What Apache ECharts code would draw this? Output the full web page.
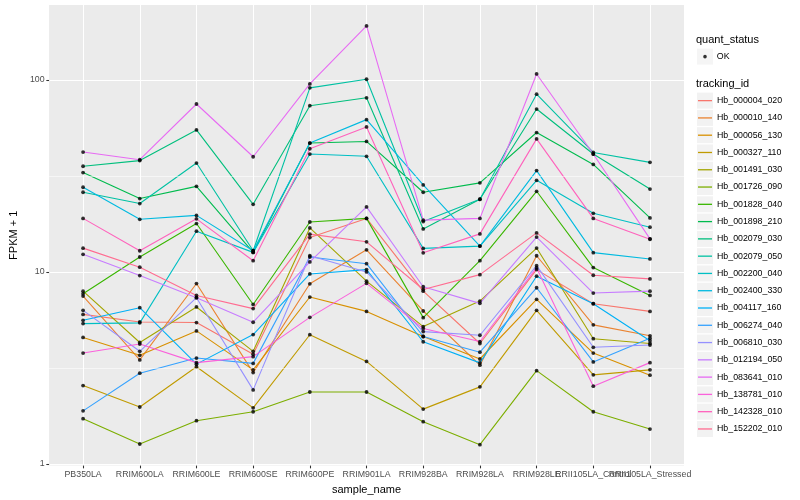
<!DOCTYPE html>
<html><head><meta charset="utf-8">
<script src="https://cdn.jsdelivr.net/npm/echarts@6/dist/echarts.min.js"></script>
<style>html,body{margin:0;padding:0;background:#fff}#c{width:800px;height:500px}</style>
</head><body><div id="c"></div>
<script>
const categories = ["PB350LA","RRIM600LA","RRIM600LE","RRIM600SE","RRIM600PE","RRIM901LA","RRIM928BA","RRIM928LA","RRIM928LE","RRII105LA_Control","RRII105LA_Stressed"];
const trackingIds = ["Hb_000004_020","Hb_000010_140","Hb_000056_130","Hb_000327_110","Hb_001491_030","Hb_001726_090","Hb_001828_040","Hb_001898_210","Hb_002079_030","Hb_002079_050","Hb_002200_040","Hb_002400_330","Hb_004117_160","Hb_006274_040","Hb_006810_030","Hb_012194_050","Hb_083641_010","Hb_138781_010","Hb_142328_010","Hb_152202_010"];
const colors = ["#F8766D","#EA8331","#D89000","#C09B00","#A3A500","#7CAE00","#39B600","#00BB4E","#00BF7D","#00C1A3","#00BFC4","#00BAE0","#00B0F6","#35A2FF","#9590FF","#C77CFF","#E76BF3","#FA62DB","#FF62BC","#FF6C91"];
const yTicks = [1, 10, 100];
const yMinorGrid = [3.1623, 31.623];

const hb_000004_020 = [6.01, 5.49, 5.45, 3.73, 15.1, 19.0, 7.94, 4.24, 10.28, 6.83, 6.23];
const hb_000010_140 = [7.49, 3.48, 8.70, 2.99, 8.67, 13.04, 6.26, 3.27, 12.14, 5.30, 4.65];
const hb_000056_130 = [4.56, 3.68, 4.93, 3.09, 7.40, 6.23, 4.61, 3.52, 7.2, 3.78, 2.90];
const hb_000327_110 = [2.56, 1.98, 3.21, 1.96, 4.71, 3.42, 1.93, 2.52, 6.31, 2.91, 3.09];
const hb_001491_030 = [7.94, 4.29, 6.57, 3.86, 16.95, 8.95, 5.19, 7.05, 13.31, 4.49, 4.24];
const hb_001726_090 = [1.72, 1.27, 1.68, 1.87, 2.37, 2.37, 1.66, 1.26, 3.06, 1.87, 1.52];
const hb_001828_040 = [7.69, 11.96, 17.86, 6.77, 18.2, 19.0, 5.78, 11.44, 26.3, 10.53, 7.54];
const hb_001898_210 = [32.9, 24.1, 27.9, 12.64, 46.9, 47.8, 26.0, 29.1, 53.2, 36.3, 19.1];
const hb_002079_030 = [35.5, 38.0, 54.9, 22.5, 73.4, 80.7, 16.75, 23.9, 70.5, 41.1, 27.0];
const hb_002079_050 = [26.0, 22.7, 36.9, 12.89, 90.9, 100.8, 18.3, 23.9, 84.3, 41.9, 37.2];
const hb_002200_040 = [5.38, 5.43, 16.3, 12.64, 41.1, 40.0, 13.26, 13.63, 30.0, 20.2, 17.1];
const hb_002400_330 = [27.6, 18.8, 19.7, 12.89, 46.9, 62.1, 28.4, 13.63, 33.7, 12.6, 11.68];
const hb_004117_160 = [5.6, 6.51, 3.31, 4.72, 9.76, 10.28, 4.33, 3.36, 9.50, 6.83, 4.38];
const hb_006274_040 = [1.89, 2.97, 3.56, 3.34, 11.96, 11.04, 4.61, 3.82, 8.27, 3.40, 4.52];
const hb_006810_030 = [6.31, 3.86, 7.34, 2.43, 12.14, 10.0, 4.89, 4.68, 10.78, 4.05, 4.16];
const hb_012194_050 = [12.35, 9.57, 7.34, 5.47, 11.27, 21.8, 8.37, 6.86, 15.18, 7.76, 7.94];
const hb_083641_010 = [42.1, 38.4, 74.9, 39.8, 95.3, 191, 18.6, 19.0, 107.4, 41.1, 14.87];
const hb_138781_010 = [3.78, 4.21, 3.37, 3.62, 5.80, 8.72, 5.07, 4.34, 10.49, 2.54, 3.37];
const hb_142328_010 = [19.0, 12.89, 18.9, 11.44, 43.8, 56.9, 12.58, 15.78, 49.3, 19.0, 14.8];
const hb_152202_010 = [13.3, 10.58, 7.54, 6.44, 15.73, 14.35, 8.10, 9.68, 15.97, 9.61, 9.20];

const seriesValues = [hb_000004_020, hb_000010_140, hb_000056_130, hb_000327_110, hb_001491_030, hb_001726_090, hb_001828_040, hb_001898_210, hb_002079_030, hb_002079_050, hb_002200_040, hb_002400_330, hb_004117_160, hb_006274_040, hb_006810_030, hb_012194_050, hb_083641_010, hb_138781_010, hb_142328_010, hb_152202_010];

const FONT = '"Liberation Sans", Arial, Helvetica, sans-serif';
const catIdx = categories.map((c, i) => i);
const xLabelValues = catIdx.concat([10.6]);

const lineSeries = trackingIds.map((id, k) => ({
  name: id,
  type: 'line',
  data: seriesValues[k].map((v, i) => [i, v]),
  showSymbol: false,
  symbol: 'none',
  lineStyle: { color: colors[k], width: 1.1 },
  itemStyle: { color: colors[k] },
  z: 2,
  silent: true,
  animation: false
}));

const allPoints = [];
seriesValues.forEach(arr => arr.forEach((v, i) => allPoints.push([i, v])));

const keyTop = 92;
const keyH = 17.28;

const option = {
  animation: false,
  backgroundColor: '#ffffff',
  textStyle: { fontFamily: FONT },
  title: [
    { text: 'quant_status', left: 696, top: 34, textStyle: { fontFamily: FONT, fontSize: 11, fontWeight: 'normal', color: '#000' }, padding: 0 },
    { text: 'tracking_id', left: 696, top: 78, textStyle: { fontFamily: FONT, fontSize: 11, fontWeight: 'normal', color: '#000' }, padding: 0 }
  ],
  grid: { left: 40, right: 116, top: 5, bottom: 31, show: true, backgroundColor: '#EBEBEB', borderWidth: 0, containLabel: false },
  xAxis: {
    type: 'value', min: -0.6, max: 10.6,
    name: 'sample_name', nameLocation: 'middle', nameGap: 15,
    nameTextStyle: { fontFamily: FONT, fontSize: 11, color: '#000' },
    axisLine: { show: false, onZero: false },
    axisTick: { show: true, customValues: catIdx, length: 2.75, lineStyle: { color: '#333333', width: 1.07 } },
    axisLabel: { customValues: xLabelValues, formatter: v => (Number.isInteger(v) ? categories[v] : ''), fontFamily: FONT, fontSize: 8.8, color: '#4D4D4D', margin: 4.5, hideOverlap: false },
    splitLine: { show: true, lineStyle: { color: '#FFFFFF', width: 1.07 } }
  },
  yAxis: {
    type: 'log', logBase: 10, min: 0.9804, max: 245.5,
    name: 'FPKM + 1', nameLocation: 'middle', nameGap: 24, nameRotate: 90,
    nameTextStyle: { fontFamily: FONT, fontSize: 11, color: '#000' },
    axisLine: { show: false, onZero: false },
    axisTick: { show: true, customValues: yTicks, length: 2.75, lineStyle: { color: '#333333', width: 1.07 } },
    axisLabel: { customValues: yTicks, formatter: v => String(Math.round(v)), fontFamily: FONT, fontSize: 8.8, color: '#4D4D4D', margin: 4.5, showMinLabel: true, showMaxLabel: true },
    splitLine: { show: true, lineStyle: { color: '#FFFFFF', width: 1.07 } },
    minorTick: { show: false }, minorSplitLine: { show: false }
  },
  legend: [
    {
      data: ['OK'], orient: 'vertical', left: 697, top: 48, icon: 'rect', itemWidth: 16, itemHeight: 16, itemGap: 0,
      itemStyle: { color: '#F2F2F2' }, selectedMode: false,
      textStyle: { color: 'rgba(0,0,0,0)', fontSize: 8.8, lineHeight: keyH, fontFamily: FONT }, padding: 0
    },
    {
      data: [{ name: 'OK', icon: 'circle', itemStyle: { color: '#000' } }], orient: 'vertical', left: 703.2, top: 48,
      itemWidth: 3.6, itemHeight: 3.6, itemGap: 0, selectedMode: false,
      textStyle: { color: '#000', fontSize: 8.8, lineHeight: keyH, fontFamily: FONT, padding: [0, 0, 0, 5] }, padding: 0
    },
    {
      data: trackingIds, orient: 'vertical', left: 697, top: keyTop, icon: 'rect', itemWidth: 16, itemHeight: 16, itemGap: 0,
      itemStyle: { color: '#F2F2F2' }, lineStyle: { width: 0 }, selectedMode: false,
      textStyle: { color: 'rgba(0,0,0,0)', fontSize: 8.8, lineHeight: keyH, fontFamily: FONT }, padding: 0
    },
    {
      data: trackingIds.map((id, k) => ({ name: id, icon: 'rect', itemStyle: { color: colors[k] } })),
      orient: 'vertical', left: 698, top: keyTop, itemWidth: 14, itemHeight: 1.3, itemGap: 0, selectedMode: false,
      textStyle: { color: '#000', fontSize: 8.8, lineHeight: keyH, fontFamily: FONT }, padding: 0
    }
  ],
  series: [
    {
      name: '_minor', type: 'line', data: [], silent: true, z: 1,
      markLine: {
        silent: true, symbol: 'none', label: { show: false },
        lineStyle: { color: '#FFFFFF', width: 0.55, type: 'solid' },
        data: yMinorGrid.map(v => ({ yAxis: v }))
      }
    },
    ...lineSeries,
    {
      name: 'OK', type: 'scatter', data: allPoints, symbol: 'circle', symbolSize: 3.8,
      itemStyle: { color: '#000000' }, z: 5, silent: true
    }
  ]
};

const chart = echarts.init(document.getElementById('c'), null, { renderer: 'canvas' });
chart.setOption(option);
</script>
</body></html>
